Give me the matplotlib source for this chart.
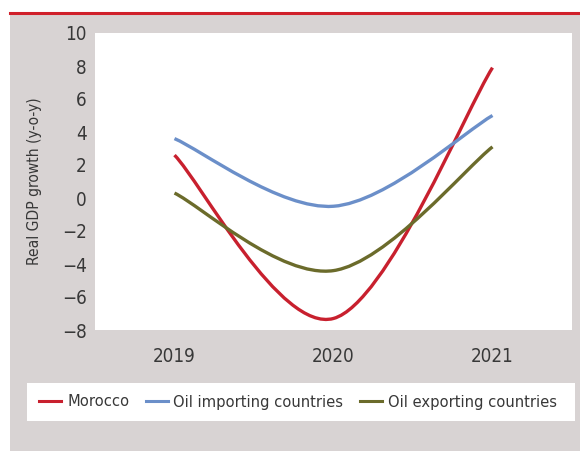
import matplotlib
matplotlib.use("Agg")
import matplotlib.pyplot as plt
from matplotlib import font_manager
from matplotlib.path import Path
from matplotlib.patches import PathPatch, Rectangle
from matplotlib.lines import Line2D

years = ["2019", "2020", "2021"]
morocco = [2.6, -7.3, 7.9]
oil_importing = [3.6, -0.5, 5.0]
oil_exporting = [0.3, -4.4, 3.1]
series_names = ["Morocco", "Oil importing countries", "Oil exporting countries"]
colors = ["#C8202E", "#6B8FC9", "#6B6B2B"]

# prefer a narrow face if one is installed
narrow = None
for f in font_manager.fontManager.ttflist:
    name = f.name.lower()
    if ("narrow" in name or "condensed" in name or f.stretch in ("condensed", "semi-condensed")) \
            and f.style == "normal" and f.weight in (400, "normal", "regular"):
        narrow = f
        break

if narrow is not None:
    plt.rcParams["font.family"] = [narrow.name, "DejaVu Sans"]
    plt.rcParams["font.stretch"] = narrow.stretch
    narrow_ok = True
else:
    plt.rcParams["font.family"] = ["Liberation Sans", "DejaVu Sans"]
    narrow_ok = False
plt.rcParams["axes.unicode_minus"] = True

GREY = "#D8D3D3"
TEXT = "#383838"
tick_fs = 13.5 if narrow_ok else 12.5
label_fs = 11.2 if narrow_ok else 10
legend_fs = 11.8 if narrow_ok else 10.5


def smooth_path(ys):
    # bezier segments through every point, excel-style smoothed line
    pts = [(float(i), float(y)) for i, y in enumerate(ys)]
    n = len(pts)
    verts = [pts[0]]
    codes = [Path.MOVETO]
    for i in range(n - 1):
        p_prev = pts[i - 1] if i > 0 else pts[i]
        p0 = pts[i]
        p1 = pts[i + 1]
        p_next = pts[i + 2] if i + 2 < n else pts[i + 1]
        c1 = (p0[0] + (p1[0] - p_prev[0]) / 6, p0[1] + (p1[1] - p_prev[1]) / 6)
        c2 = (p1[0] - (p_next[0] - p0[0]) / 6, p1[1] - (p_next[1] - p0[1]) / 6)
        verts += [c1, c2, p1]
        codes += [Path.CURVE4] * 3
    return Path(verts, codes)


fig = plt.figure(figsize=(5.8, 4.51), dpi=100)
fig.patch.set_facecolor("white")

# grey panel and red rule on top
fig.add_artist(Rectangle((10 / 580, 0), 570 / 580, 1 - 14 / 451,
                         transform=fig.transFigure, facecolor=GREY, edgecolor="none", zorder=0))
fig.add_artist(Line2D([10 / 580, 1], [1 - 13 / 451, 1 - 13 / 451],
                      transform=fig.transFigure, color="#D0202A", linewidth=2.2, zorder=1))

ax = fig.add_axes([95 / 580, 1 - 330 / 451, 477 / 580, 297 / 451])
ax.set_facecolor("white")

for ys, c in zip([morocco, oil_importing, oil_exporting], colors):
    ax.add_patch(PathPatch(smooth_path(ys), fill=False, edgecolor=c, linewidth=2.4,
                           capstyle="butt"))

ax.set_xlim(-0.5, len(years) - 0.5)
ax.set_ylim(-8, 10)
ax.set_xticks(range(len(years)))
ax.set_xticklabels(years)
ax.set_yticks(range(-8, 11, 2))
ax.tick_params(length=0, labelsize=tick_fs, colors=TEXT, pad=6)
ax.tick_params(axis="x", pad=12)
for s in ax.spines.values():
    s.set_visible(False)
ax.set_ylabel("Real GDP growth (y-o-y)", fontsize=label_fs, color=TEXT, labelpad=14)

# legend in white box
fig.add_artist(Rectangle((27 / 580, 1 - 421 / 451), 548 / 580, 38 / 451,
                         transform=fig.transFigure, facecolor="white", edgecolor="none", zorder=1))
handles = [Line2D([], [], color=c, linewidth=2.2) for c in colors]
fig.legend(handles, series_names, loc="center", bbox_to_anchor=(298 / 580, 1 - 402 / 451),
           ncol=3, frameon=False, fontsize=legend_fs, handlelength=1.35, handletextpad=0.35,
           columnspacing=1.0, labelcolor=TEXT)

fig.savefig("out.png", dpi=100)
